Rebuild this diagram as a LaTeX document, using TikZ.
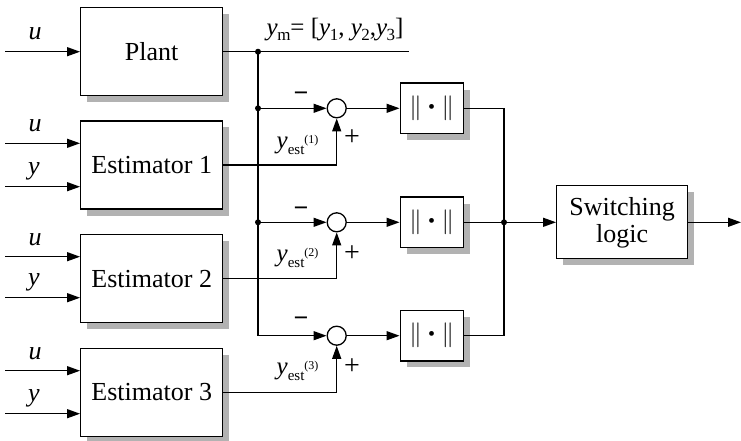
\documentclass[tikz,border=0pt]{standalone}
\usepackage{fontspec}
\setmainfont{Liberation Serif}
\usetikzlibrary{arrows.meta}
\newcommand{\ysubm}[1]{\textit{y}\kern-0.5pt\raisebox{-5pt}{\fontsize{17}{17}\selectfont #1}}
\newcommand{\yestl}[1]{\textit{y}\raisebox{-6pt}{\fontsize{15}{15}\selectfont est}\raisebox{5pt}{\fontsize{12}{12}\selectfont (#1)}}
\newcommand{\normsym}{$\Bigl\Vert$\hspace{6.5pt}\raisebox{0.05em}{\fontsize{20}{20}\selectfont •}\hspace{6.5pt}$\Bigr\Vert$}
\begin{document}
\begin{tikzpicture}[x=1pt,y=-1pt, line width=1.3pt,
  >={Triangle[length=13pt,width=9pt]},
  blk/.style={draw, fill=white, line width=1.3pt,
    preaction={draw=none, fill=black!30, transform canvas={shift={(6.5pt,-6.5pt)}}},
    font=\fontsize{26}{30}\selectfont, align=center, inner sep=0pt},
  bigblk/.style={blk, minimum width=142pt, minimum height=88pt},
  normblk/.style={blk, minimum width=63pt, minimum height=50.5pt},
  sumc/.style={circle, draw, fill=white, minimum size=19pt, inner sep=0pt},
  jdot/.style={circle, fill, minimum size=6pt, inner sep=0pt},
  lab/.style={font=\fontsize{26}{26}\selectfont\itshape, inner sep=0pt},
  lab2/.style={font=\fontsize{25}{25}\selectfont, inner sep=0pt},
  sgn/.style={font=\fontsize{28}{28}\selectfont, inner sep=0pt},
  msgn/.style={font=\fontsize{26}{26}\selectfont\bfseries, inner sep=0pt}]
\useasboundingbox (0,0) rectangle (741,441);

% blocks
\node[bigblk] (plant) at (151.7,51.7) {Plant};
\node[bigblk] (e1) at (151.7,165) {Estimator 1};
\node[bigblk] (e2) at (151.7,278.7) {Estimator 2};
\node[bigblk] (e3) at (151.7,392.5) {Estimator 3};
\node[normblk] (n1) at (431.7,108.3) {\normsym};
\node[normblk] (n2) at (431.7,222.3) {\normsym};
\node[normblk] (n3) at (431.7,335.7) {\normsym};
\node[blk, minimum width=131pt, minimum height=73pt] (sw) at (622.2,222.3) {Switching\\[-3pt]logic};
\node[sumc] (s1) at (336.7,108.3) {};
\node[sumc] (s2) at (336.7,222.3) {};
\node[sumc] (s3) at (336.7,335.7) {};

% input coordinates
\coordinate (uP) at (5,51.7);
\coordinate (u1) at (5,143.3);
\coordinate (y1) at (5,186.7);
\coordinate (u2) at (5,256.7);
\coordinate (y2) at (5,297.7);
\coordinate (u3) at (5,370.7);
\coordinate (y3) at (5,413.7);
\draw[->] (uP) -- (plant.west);
\draw[->] (u1) -- (u1 -| e1.west);
\draw[->] (y1) -- (y1 -| e1.west);
\draw[->] (u2) -- (u2 -| e2.west);
\draw[->] (y2) -- (y2 -| e2.west);
\draw[->] (u3) -- (u3 -| e3.west);
\draw[->] (y3) -- (y3 -| e3.west);

\node[lab] (luP) at (35,34) {u};
\node[lab] (lu1) at (35,126) {u};
\node[lab] (ly1) at (34,171) {y};
\node[lab] (lu2) at (35,240) {u};
\node[lab] (ly2) at (34,282) {y};
\node[lab] (lu3) at (35,354) {u};
\node[lab] (ly3) at (34,398) {y};

% plant output
\coordinate (ym) at (409,51.7);
\node[jdot] (j0) at (258,51.7) {};
\node[jdot] (j1) at (258,108.3) {};
\node[jdot] (j2) at (258,222.3) {};
\draw (plant.east) -- (ym);
\draw[->] (j0.center) |- (s3.west);
\draw[->] (j1.center) -- (s1.west);
\draw[->] (j2.center) -- (s2.west);
\node[lab2, anchor=west] (lym) at (266,30) {\ysubm{m}= [\ysubm{1}, \ysubm{2},\ysubm{3}]};

% estimator outputs
\draw[->] (e1.east) -| (s1.south);
\draw[->] (e2.east) -| (s2.south);
\draw[->] (e3.east) -| (s3.south);
\node[lab2, anchor=west] (le1) at (276,145) {\yestl{1}};
\node[lab2, anchor=west] (le2) at (276,258) {\yestl{2}};
\node[lab2, anchor=west] (le3) at (276,371) {\yestl{3}};

% signs
\node[msgn] (m1) at (301,97) {−};
\node[msgn] (m2) at (301,211.7) {−};
\node[msgn] (m3) at (301,321.7) {−};
\node[sgn] (p1) at (352,138) {+};
\node[sgn] (p2) at (352,253.3) {+};
\node[sgn] (p3) at (352,366.7) {+};

% sums to norms
\draw[->] (s1.east) -- (n1.west);
\draw[->] (s2.east) -- (n2.west);
\draw[->] (s3.east) -- (n3.west);

% norms to switching logic
\node[jdot] (jr) at (504,222.3) {};
\draw (n1.east) -| (jr.center);
\draw (n3.east) -| (jr.center);
\draw (n2.east) -- (jr.center);
\draw[->] (jr.center) -- (sw.west);
\coordinate (out) at (741,222.3);
\draw[->] (sw.east) -- (out);
\end{tikzpicture}
\end{document}
